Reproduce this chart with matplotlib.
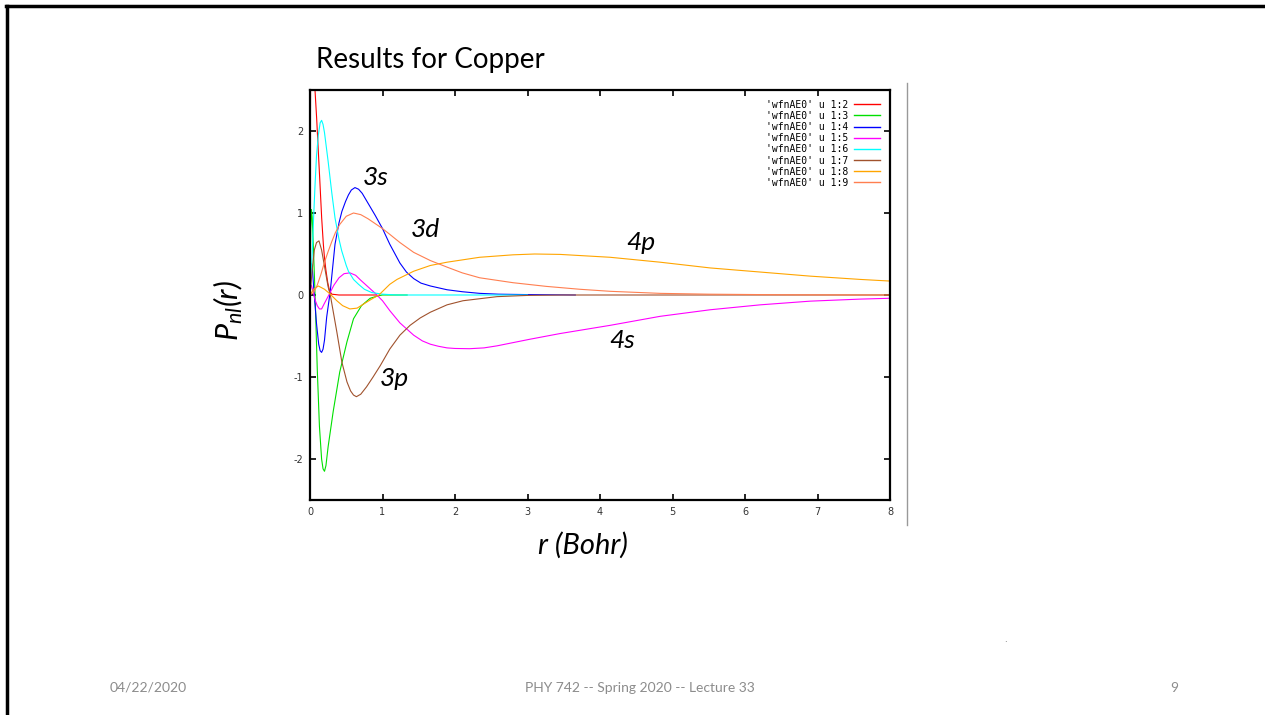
import matplotlib
matplotlib.use("Agg")
from matplotlib import pyplot as plt
from matplotlib.lines import Line2D

plt.rcParams['mathtext.fontset'] = 'custom'
plt.rcParams['mathtext.it'] = 'Lato:italic'
plt.rcParams['mathtext.rm'] = 'Lato:italic'
plt.rcParams['axes.unicode_minus'] = False

# radial functions P_nl(r) (r in Bohr)
r_1s = [0.0, 0.005, 0.01, 0.02, 0.035, 0.05, 0.069, 0.092, 0.115, 0.138, 0.161, 0.184, 0.2, 0.22, 0.245, 0.27, 0.3, 0.4, 0.6, 0.92]
p_1s = [0.0, 2.0, 3.0, 3.7, 3.95, 3.4, 2.5, 2.15, 1.75, 1.35, 0.94, 0.62, 0.45, 0.30, 0.15, 0.05, 0.01, 0.0, 0.0, 0.0]

r_2s = [0.0, 0.01, 0.02, 0.03, 0.05, 0.07, 0.1, 0.13, 0.16, 0.18, 0.2, 0.22, 0.25, 0.32, 0.41, 0.51, 0.6, 0.71, 0.83, 0.94, 1.0, 1.34]
p_2s = [0.0, 0.8, 1.04, 0.95, 0.5, 0.0, -0.9, -1.6, -2.0, -2.12, -2.15, -2.08, -1.85, -1.42, -0.94, -0.57, -0.29, -0.13, -0.04, -0.01, 0.0, 0.0]

r_3s = [0.0, 0.01, 0.02, 0.03, 0.05, 0.09, 0.12, 0.14, 0.16, 0.18, 0.2, 0.23, 0.28, 0.345, 0.4, 0.44, 0.49, 0.53, 0.57, 0.62, 0.67, 0.72, 0.8, 0.9, 1.0, 1.1, 1.24, 1.33, 1.43, 1.53, 1.66, 1.89, 2.1, 2.34, 2.6, 3.0, 3.66]
p_3s = [0.0, 0.3, 0.38, 0.35, 0.1, -0.35, -0.6, -0.68, -0.70, -0.66, -0.55, -0.27, 0.05, 0.62, 0.88, 1.02, 1.14, 1.22, 1.28, 1.31, 1.29, 1.24, 1.12, 0.97, 0.81, 0.62, 0.39, 0.28, 0.20, 0.145, 0.11, 0.064, 0.04, 0.02, 0.01, 0.005, 0.0]

r_4s = [0.0, 0.01, 0.02, 0.04, 0.07, 0.1, 0.13, 0.16, 0.2, 0.26, 0.33, 0.4, 0.47, 0.55, 0.63, 0.7, 0.8, 0.9, 1.0, 1.1, 1.24, 1.43, 1.55, 1.66, 1.77, 1.89, 2.0, 2.2, 2.4, 2.58, 3.03, 3.45, 4.14, 4.83, 5.52, 6.21, 6.9, 7.59, 8.0]
p_4s = [0.0, 0.1, 0.12, 0.05, -0.06, -0.13, -0.17, -0.17, -0.1, 0.0, 0.12, 0.21, 0.26, 0.27, 0.24, 0.18, 0.1, 0.02, -0.07, -0.19, -0.34, -0.49, -0.56, -0.60, -0.625, -0.645, -0.652, -0.655, -0.645, -0.62, -0.54, -0.47, -0.37, -0.26, -0.18, -0.12, -0.075, -0.05, -0.04]

r_2p = [0.0, 0.03, 0.05, 0.07, 0.09, 0.115, 0.14, 0.16, 0.18, 0.2, 0.25, 0.3, 0.345, 0.4, 0.437, 0.5, 0.53, 0.6, 0.67, 0.75, 0.85, 1.0, 1.2, 3.0]
p_2p = [0.0, 0.5, 0.95, 1.35, 1.7, 1.95, 2.1, 2.13, 2.08, 1.98, 1.63, 1.25, 0.94, 0.68, 0.54, 0.36, 0.29, 0.19, 0.13, 0.07, 0.03, 0.01, 0.0, 0.0]

r_3p = [0.0, 0.03, 0.06, 0.09, 0.124, 0.16, 0.2, 0.25, 0.28, 0.33, 0.37, 0.44, 0.51, 0.56, 0.6, 0.64, 0.7, 0.78, 0.87, 0.97, 1.1, 1.24, 1.38, 1.52, 1.66, 1.89, 2.11, 2.58, 3.0, 3.5, 8.0]
p_3p = [0.0, 0.3, 0.55, 0.64, 0.66, 0.55, 0.35, 0.1, 0.0, -0.25, -0.45, -0.82, -1.06, -1.17, -1.22, -1.24, -1.21, -1.12, -1.0, -0.86, -0.66, -0.49, -0.37, -0.28, -0.21, -0.12, -0.07, -0.02, -0.005, 0.0, 0.0]

r_4p = [0.0, 0.05, 0.115, 0.2, 0.28, 0.37, 0.45, 0.55, 0.65, 0.74, 0.85, 0.95, 1.1, 1.2, 1.43, 1.66, 1.89, 2.34, 2.8, 3.1, 3.45, 4.14, 4.83, 5.52, 6.21, 6.9, 7.59, 8.0]
p_4p = [0.0, 0.07, 0.11, 0.07, 0.01, -0.07, -0.13, -0.17, -0.16, -0.11, -0.05, 0.0, 0.13, 0.19, 0.29, 0.36, 0.40, 0.46, 0.49, 0.50, 0.495, 0.46, 0.40, 0.33, 0.28, 0.23, 0.19, 0.17]

r_3d = [0.0, 0.05, 0.1, 0.15, 0.2, 0.25, 0.3, 0.35, 0.41, 0.5, 0.6, 0.7, 0.8, 0.9, 1.0, 1.1, 1.24, 1.43, 1.66, 1.89, 2.1, 2.34, 2.8, 3.26, 3.72, 4.14, 4.83, 5.5, 6.5, 8.0]
p_3d = [0.0, 0.03, 0.12, 0.25, 0.40, 0.53, 0.65, 0.76, 0.86, 0.96, 1.0, 0.98, 0.93, 0.87, 0.81, 0.74, 0.64, 0.52, 0.42, 0.34, 0.27, 0.21, 0.15, 0.105, 0.07, 0.045, 0.02, 0.01, 0.003, 0.0]

series = [(r_1s, p_1s, "'wfnAE0' u 1:2", "#ff0000"),
          (r_2s, p_2s, "'wfnAE0' u 1:3", "#00e000"),
          (r_3s, p_3s, "'wfnAE0' u 1:4", "#0000ff"),
          (r_4s, p_4s, "'wfnAE0' u 1:5", "#ff00ff"),
          (r_2p, p_2p, "'wfnAE0' u 1:6", "#00ffff"),
          (r_3p, p_3p, "'wfnAE0' u 1:7", "#a0522d"),
          (r_4p, p_4p, "'wfnAE0' u 1:8", "#ffa500"),
          (r_3d, p_3d, "'wfnAE0' u 1:9", "#ff7f50")]

# orbital labels placed in data coords
orb_labels = [("3s", 0.91, 1.43), ("3d", 1.59, 0.80), ("4p", 4.56, 0.64),
              ("4s", 4.30, -0.55), ("3p", 1.16, -1.02)]

W, H = 1265, 715
fig = plt.figure(figsize=(W / 100, H / 100), dpi=100)
ax = fig.add_axes([310 / W, 1 - 500 / H, 580 / W, 410 / H])

for r, p, lab, col in series:
    ax.plot(r, p, color=col, lw=0.8, label=lab)

ax.set_xlim(0, 8)
ax.set_ylim(-2.5, 2.5)
ax.set_xticks(range(0, 9))
ax.set_yticks([-2, -1, 0, 1, 2])
ax.tick_params(direction="in", length=4, width=1.2, top=True, right=True,
               labelsize=7, labelcolor="#333333", pad=5)
for s in ax.spines.values():
    s.set_linewidth(1.6)

for txt, x, y in orb_labels:
    ax.text(x, y, txt, fontsize=19, family="Lato", style="italic", ha="center", va="center")

handles = [Line2D([], [], color=c, lw=1.0) for _, _, _, c in series]
ax.legend(handles, [s[2] for s in series], loc="upper right", frameon=False,
          prop={"family": "DejaVu Sans Mono", "size": 7}, markerfirst=False,
          handlelength=2.7, labelspacing=0.12, borderaxespad=0.6, handletextpad=0.6)

fig.text(316 / W, 1 - 60 / H, "Results for Copper", fontsize=20, family="Lato",
         ha="left", va="center")
fig.text(228 / W, 1 - 310 / H, r"$P_{nl}(r)$", fontsize=22, rotation=90,
         ha="center", va="center")
fig.text(583 / W, 1 - 545 / H, "r (Bohr)", fontsize=21, family="Lato", style="italic",
         ha="center", va="center")

# slide decorations
fig.add_artist(Line2D([907 / W, 907 / W], [1 - 83 / H, 1 - 525 / H], color="#999999", lw=1))
fig.add_artist(Line2D([6 / W, 1], [1 - 5.5 / H, 1 - 5.5 / H], color="black", lw=2.5))
fig.add_artist(Line2D([7.5 / W, 7.5 / W], [0, 1 - 5.5 / H], color="black", lw=2.5))
fig.text(1005 / W, 1 - 640 / H, ".", fontsize=6, ha="center", va="center", color="#555555")

footer = {"fontsize": 10, "family": "Lato", "color": "#8c8c8c", "va": "center"}
fig.text(148 / W, 1 - 688 / H, "04/22/2020", ha="center", **footer)
fig.text(640 / W, 1 - 688 / H, "PHY 742 -- Spring 2020 -- Lecture 33", ha="center", **footer)
fig.text(1174 / W, 1 - 688 / H, "9", ha="center", **footer)

fig.savefig("out.png", dpi=100)
